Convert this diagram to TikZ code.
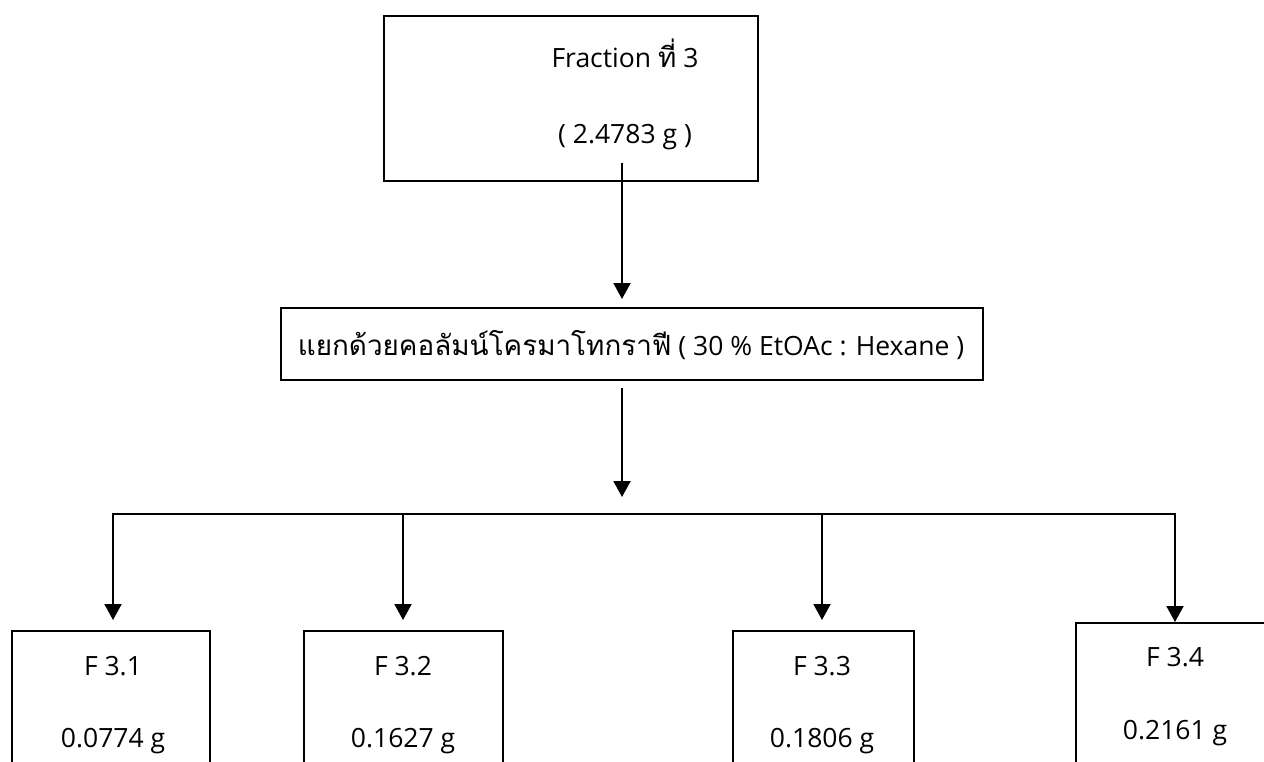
\documentclass[tikz,border=0pt]{standalone}
\usepackage{fontspec}
\setmainfont{Open Sans}
\newfontfamily\thai[Script=Thai,Scale=1.05]{Loma}
\usetikzlibrary{arrows.meta,calc}

\tikzset{
  box/.style={draw, line width=1.8pt, anchor=north west, inner sep=0pt, rectangle},
  label/.style={font=\fontsize{26.5}{30}\selectfont, inner sep=0pt, anchor=center},
  flow/.style={line width=2pt, -{Triangle[width=17pt,length=16pt]}},
  bus/.style={line width=2pt}
}

\begin{document}
\begin{tikzpicture}[x=1pt,y=-1pt]
  \useasboundingbox (0,0) rectangle (1264,761);
  \clip (0,0) rectangle (1264,761);

  % starting fraction
  \node[box, minimum width=374pt, minimum height=165pt] (top) at (383,15) {};
  \node[label] (topA) at (625,53) {Fraction {\thai ที่} 3};
  \node[label] (topB) at (625,137) {( 2.4783 g )};

  % column chromatography step
  \node[box, minimum width=702pt, minimum height=72pt] (mid) at (280,307) {};
  \node[label] (midT) at (631,345) {{\thai แยกด้วยคอลัมน์โครมาโทกราฟี} ( 30 \% EtOAc : Hexane )};

  % sub-fractions
  \node[box, minimum width=198pt, minimum height=200pt] (f1) at (11,630) {};
  \node[box, minimum width=199pt, minimum height=200pt] (f2) at (303,630) {};
  \node[box, minimum width=181pt, minimum height=200pt] (f3) at (732,630) {};
  \node[box, minimum width=220pt, minimum height=200pt] (f4) at (1075,622) {};

  \node[label] (f1a) at (113,666) {F 3.1};
  \node[label] (f1b) at (113,741) {0.0774 g};
  \node[label] (f2a) at (403,666) {F 3.2};
  \node[label] (f2b) at (403,741) {0.1627 g};
  \node[label] (f3a) at (822,666) {F 3.3};
  \node[label] (f3b) at (822,741) {0.1806 g};
  \node[label] (f4a) at (1175,657) {F 3.4};
  \node[label] (f4b) at (1175,733) {0.2161 g};

  % connectors
  \coordinate (s1) at (622,163);
  \coordinate (s2) at (622,388);
  \coordinate (split) at (622,497);
  \coordinate (busL) at (113,514);
  \coordinate (busR) at (1175,514);
  \coordinate (d1) at (113,514);
  \coordinate (d2) at (403,514);
  \coordinate (d3) at (822,514);
  \coordinate (d4) at (1175,514);

  \draw[flow, shorten >=8pt] (s1) -- (s1 |- mid.north);
  \draw[flow] (s2) -- (split);
  \draw[bus, line cap=rect] (busL) -- (busR);
  \draw[flow, shorten >=10pt] (d1) -- (d1 |- f1.north);
  \draw[flow, shorten >=10pt] (d2) -- (d2 |- f2.north);
  \draw[flow, shorten >=10pt] (d3) -- (d3 |- f3.north);
  \draw[flow] (d4) -- (d4 |- f4.north);
\end{tikzpicture}
\end{document}
